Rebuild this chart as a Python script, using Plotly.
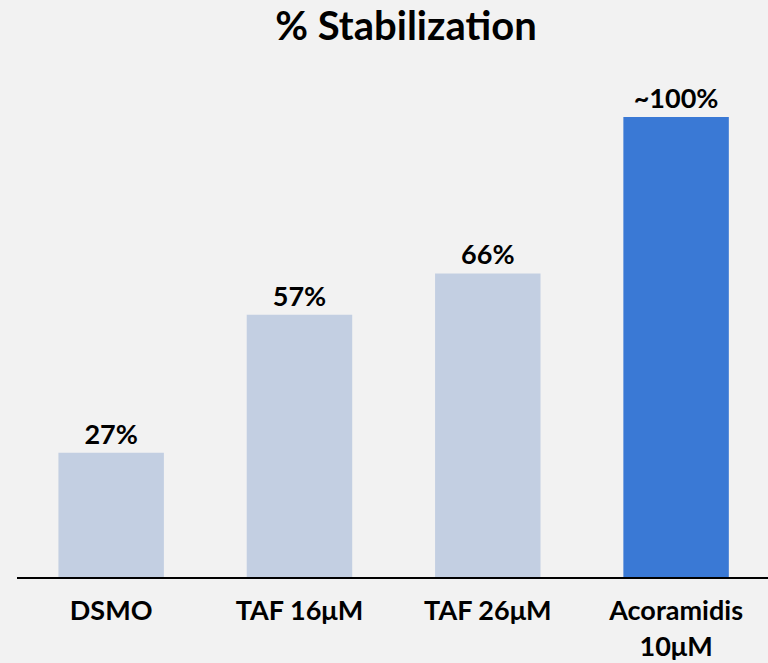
import plotly.graph_objects as go

# Chart data
categories = ["DSMO", "TAF 16μM", "TAF 26μM", "Acoramidis<br>10μM"]
stabilization = [27, 57, 66, 100]
value_labels = ["27%", "57%", "66%", "~100%"]
bar_colors = ["#c3cfe2", "#c3cfe2", "#c3cfe2", "#3a79d5"]

FONT = "Lato"

fig = go.Figure(
    go.Bar(
        x=categories,
        y=stabilization,
        marker=dict(color=bar_colors, line=dict(width=0)),
        text=value_labels,
        textposition="outside",
        textfont=dict(family=FONT, size=27, color="#000000", weight="bold"),
        cliponaxis=False,
        width=0.56,
    )
)

fig.update_layout(
    width=768,
    height=663,
    paper_bgcolor="#f2f2f2",
    plot_bgcolor="#f2f2f2",
    margin=dict(l=17, r=0, t=60, b=86),
    showlegend=False,
    title=dict(
        text="<b>% Stabilization</b>",
        font=dict(family=FONT, size=40, color="#000000"),
        x=0.518,
        xanchor="center",
        y=0.9605,
        yanchor="middle",
        xref="paper",
    ),
    xaxis=dict(
        range=[-0.5, 3.488],
        automargin=False,
        showline=True,
        linecolor="#000000",
        linewidth=2,
        ticks="",
        showgrid=False,
        tickfont=dict(family=FONT, size=27, color="#000000", weight="bold"),
        ticklabelstandoff=9,
    ),
    yaxis=dict(
        range=[0, 112.4],
        visible=False,
        showgrid=False,
        zeroline=False,
    ),
)

fig.write_html("out.html")
